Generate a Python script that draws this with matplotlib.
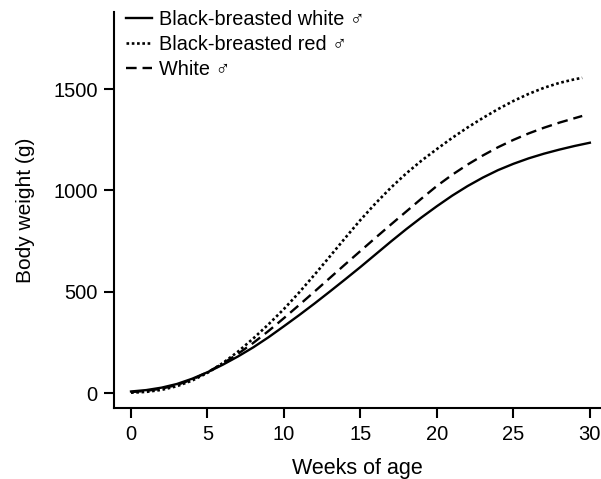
import numpy as np
import matplotlib
matplotlib.use('Agg')
import matplotlib.pyplot as plt

plt.rcParams['font.family'] = ['Liberation Sans', 'DejaVu Sans']

# weekly body weight (g)
weeks = list(range(0, 31))
bb_white = [8, 15, 27, 45, 71, 103, 140, 181, 226, 276, 330,
            385, 442, 501, 561, 622, 685, 748, 809, 867, 922,
            974, 1021, 1063, 1100, 1131, 1158, 1181, 1201, 1219, 1235]

weeks_short = list(range(0, 30)) + [29.5]
bb_red = [2, 6, 16, 34, 62, 100, 148, 205, 270, 340, 415,
          497, 584, 674, 765, 854, 937, 1014, 1084, 1147, 1204,
          1259, 1310, 1357, 1401, 1441, 1476, 1506, 1530, 1548, 1555]
white = [5, 11, 22, 40, 67, 103, 146, 194, 248, 307, 370,
         435, 501, 568, 635, 701, 767, 832, 896, 960, 1022,
         1077, 1127, 1172, 1213, 1249, 1281, 1309, 1334, 1356, 1367]

labels = ['Black-breasted white \u2642', 'Black-breasted red \u2642', 'White \u2642']

fig = plt.figure(figsize=(6.01, 4.79), dpi=100)
ax = fig.add_axes([0.19, 0.148, 0.808, 0.827])

ax.plot(weeks, bb_white, color='black', lw=1.7, ls='-', label=labels[0])
ax.plot(weeks_short, bb_red, color='black', lw=1.9, ls=(0, (1, 1)), label=labels[1])
ax.plot(weeks_short, white, color='black', lw=1.7, ls=(0, (4.5, 2.5)), label=labels[2])

ax.set_xlim(-1.1, 30.65)
ax.set_ylim(-74, 1880)
ax.set_xticks(np.arange(0, 31, 5))
ax.set_yticks([0, 500, 1000, 1500])

for side in ['top', 'right']:
    ax.spines[side].set_visible(False)
for side in ['left', 'bottom']:
    ax.spines[side].set_linewidth(1.5)
ax.tick_params(direction='out', length=7, width=1.5, labelsize=14.5, pad=5)

ax.set_xlabel('Weeks of age', fontsize=15.5, labelpad=10)
ax.set_ylabel('Body weight (g)', fontsize=15, labelpad=13)

ax.legend(loc='upper left', bbox_to_anchor=(0.0, 1.035), frameon=False,
          fontsize=14.3, handlelength=1.3, handletextpad=0.35,
          labelspacing=0.3, borderaxespad=0.2)

fig.savefig('out.png', dpi=100)
